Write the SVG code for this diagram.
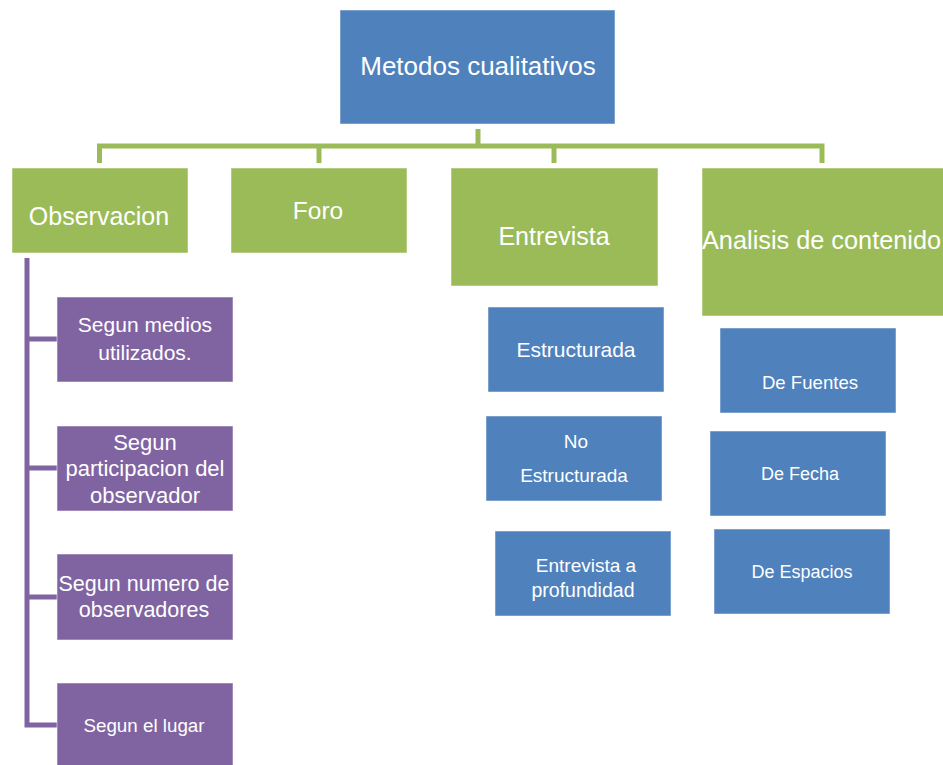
<svg xmlns="http://www.w3.org/2000/svg" width="943" height="765" viewBox="0 0 943 765">
<style>
text{font-family:"Liberation Sans",Arial,sans-serif;fill:#fff;text-anchor:middle}
.b{fill:#4F81BD;stroke:#fff;stroke-opacity:.5;stroke-width:1}
.g{fill:#9BBB59;stroke:#fff;stroke-opacity:.5;stroke-width:1}
.p{fill:#8064A2;stroke:#fff;stroke-opacity:.5;stroke-width:1}
.cg{fill:none;stroke:#9BBB59;stroke-width:5}
.cp{fill:none;stroke:#8064A2;stroke-width:5}
</style>
<rect width="943" height="765" fill="#fff"/>
<g id="connectors">
<path class="cg" d="M478 129V146M99.5 163V146H822V163M319 146V163M554 146V163"/>
<path class="cp" d="M27 258V725H57M27 339H57M27 468H57M27 597H57"/>
</g>
<g id="n-metodos"><rect class="b" x="340" y="10" width="275" height="114"/><text x="478" y="75" font-size="26">Metodos cualitativos</text></g>
<g id="n-observacion"><rect class="g" x="12" y="168" width="176" height="85"/><text x="99" y="225" font-size="25">Observacion</text></g>
<g id="n-foro"><rect class="g" x="231" y="168" width="176" height="85"/><text x="318" y="219" font-size="24.5">Foro</text></g>
<g id="n-entrevista"><rect class="g" x="451" y="168" width="207" height="118"/><text x="554" y="245" font-size="25">Entrevista</text></g>
<g id="n-analisis"><rect class="g" x="702" y="168" width="245" height="148"/><text x="702" y="249" font-size="25.3" style="text-anchor:start">Analisis de contenido</text></g>
<g id="n-medios"><rect class="p" x="57" y="297" width="176" height="85"/><text x="145" y="332" font-size="21">Segun medios</text><text x="145" y="360" font-size="21">utilizados.</text></g>
<g id="n-participacion"><rect class="p" x="57" y="426" width="176" height="85"/><text x="145" y="450" font-size="22">Segun</text><text x="145" y="476" font-size="22">participacion del</text><text x="145" y="503" font-size="22">observador</text></g>
<g id="n-numero"><rect class="p" x="57" y="554" width="176" height="86"/><text x="144" y="591" font-size="21.5">Segun numero de</text><text x="144" y="617" font-size="21.5">observadores</text></g>
<g id="n-lugar"><rect class="p" x="57" y="683" width="176" height="85"/><text x="144" y="732" font-size="18.8">Segun el lugar</text></g>
<g id="n-estructurada"><rect class="b" x="488" y="307" width="176" height="85"/><text x="576" y="357" font-size="21">Estructurada</text></g>
<g id="n-noestructurada"><rect class="b" x="486" y="416" width="176" height="85"/><text x="576" y="448" font-size="19">No</text><text x="574" y="482" font-size="19">Estructurada</text></g>
<g id="n-profundidad"><rect class="b" x="495" y="531" width="176" height="85"/><text x="586" y="572" font-size="19">Entrevista a</text><text x="583" y="597" font-size="19.5">profundidad</text></g>
<g id="n-fuentes"><rect class="b" x="720" y="328" width="176" height="85"/><text x="810" y="389" font-size="18.6">De Fuentes</text></g>
<g id="n-fecha"><rect class="b" x="710" y="431" width="176" height="85"/><text x="800" y="480" font-size="18">De Fecha</text></g>
<g id="n-espacios"><rect class="b" x="714" y="529" width="176" height="85"/><text x="802" y="578" font-size="18">De Espacios</text></g>
</svg>
